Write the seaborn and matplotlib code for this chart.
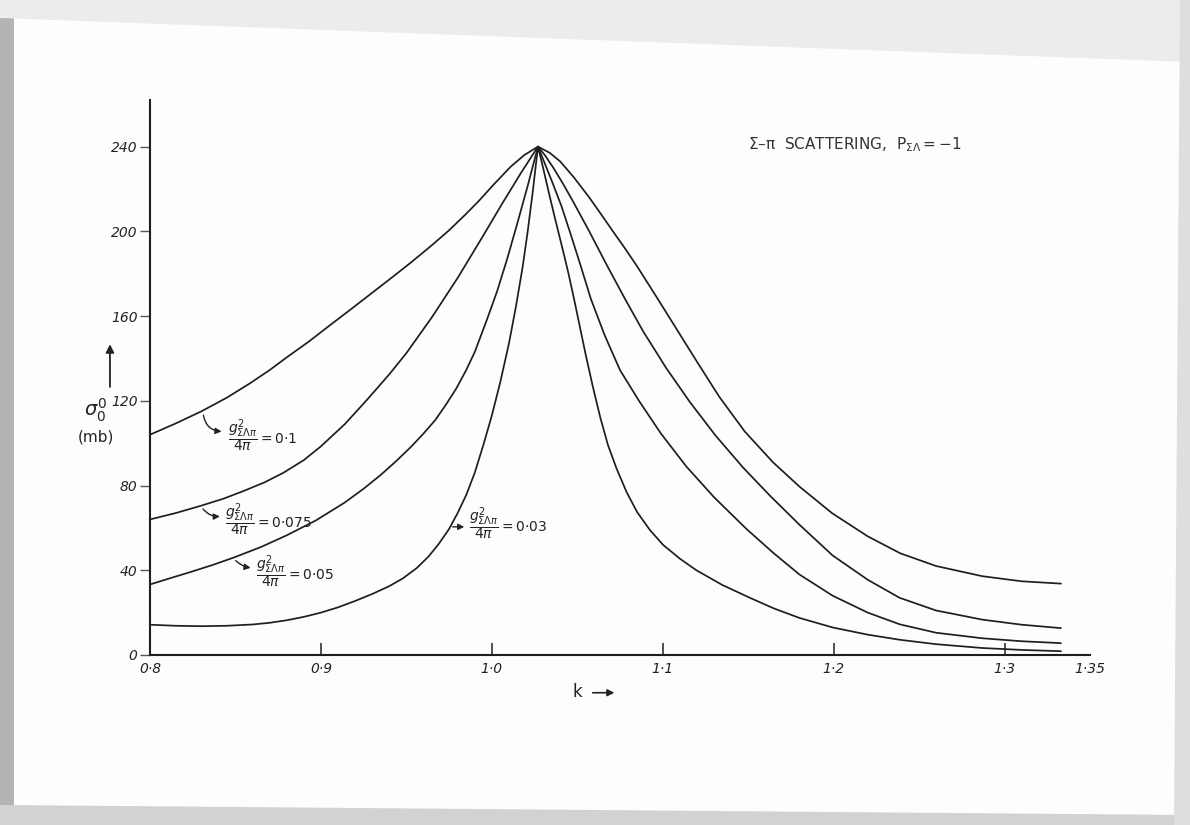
import numpy as np
import pandas as pd
import matplotlib
matplotlib.use("Agg")
import matplotlib.pyplot as plt
import seaborn as sns
from matplotlib.patches import Polygon

# Sigma-pi total cross section sigma_0^0 (mb) against k, one curve per coupling g^2/4pi
k_g010 = [0.800, 0.815, 0.830, 0.845, 0.858, 0.870, 0.880, 0.893, 0.905, 0.918, 0.930,
          0.942, 0.953, 0.965, 0.975, 0.984, 0.992, 1.001, 1.011, 1.019, 1.027,
          1.034, 1.040, 1.048, 1.057, 1.064, 1.070, 1.077, 1.0846, 1.096, 1.108, 1.120,
          1.133, 1.148, 1.1645, 1.180, 1.199, 1.220, 1.239, 1.260, 1.287, 1.310, 1.333]
sigma_g010 = [104, 109.3, 115, 121.5, 128, 134.5, 140.5, 148, 155.5, 163.5, 171,
              178.5, 185.5, 193.5, 200.5, 207.5, 214, 222, 230.5, 236, 240,
              237, 233, 225.5, 216, 208, 201, 193, 184, 169.5, 154, 138.5,
              122, 105.5, 91, 79.5, 67, 56, 48, 42, 37.2, 34.8, 33.7]

k_g0075 = [0.800, 0.815, 0.830, 0.843, 0.855, 0.867, 0.878, 0.890, 0.900, 0.914, 0.927,
           0.940, 0.950, 0.965, 0.980, 0.995, 1.006, 1.017, 1.027,
           1.031, 1.036, 1.042, 1.0476, 1.057, 1.067, 1.078, 1.0884, 1.102, 1.1158, 1.131,
           1.147, 1.163, 1.180, 1.1994, 1.220, 1.2386, 1.260, 1.287, 1.310, 1.333]
sigma_g0075 = [64, 67, 70.5, 73.8, 77.5, 81.5, 86, 92, 98.5, 109, 120.5,
               132.5, 142.5, 159.5, 178, 198, 213, 227.5, 240,
               236, 230, 222, 214, 200, 184.5, 168, 153, 135.5, 119.5, 103.5,
               88.5, 75, 61.5, 47, 35.5, 27, 21, 16.7, 14.3, 12.7]

k_g005 = [0.800, 0.812, 0.825, 0.837, 0.849, 0.865, 0.880, 0.897, 0.914, 0.925, 0.935,
          0.944, 0.953, 0.960, 0.967, 0.973, 0.979, 0.985, 0.990, 0.997, 1.003, 1.009,
          1.015, 1.021, 1.027,
          1.031, 1.035, 1.0407, 1.046, 1.0515, 1.058, 1.066, 1.075, 1.0865, 1.099, 1.1138,
          1.130, 1.149, 1.165, 1.180, 1.1994, 1.220, 1.2386, 1.260, 1.287, 1.310, 1.333]
sigma_g005 = [33.3, 36.3, 39.5, 42.6, 46, 51, 56.5, 63.5, 72, 78.5, 85,
              91.5, 98.5, 104.5, 111, 118, 125.5, 134.5, 143, 158, 171.5, 187,
              204, 221.5, 240,
              232, 224, 212, 199, 185, 168, 151, 134.5, 119.5, 104.5, 89,
              74.5, 59.5, 48, 38, 28, 20, 14.5, 10.5, 7.9, 6.5, 5.6]

k_g003 = [0.800, 0.815, 0.830, 0.845, 0.860, 0.870, 0.880, 0.890, 0.900, 0.910, 0.920,
          0.930, 0.940, 0.948, 0.956, 0.963, 0.969, 0.975, 0.980, 0.985, 0.990, 0.995,
          1.000, 1.005, 1.010, 1.014, 1.018, 1.021, 1.024, 1.027,
          1.030, 1.033, 1.037, 1.041, 1.0446, 1.048, 1.0515, 1.055, 1.0593, 1.0635, 1.068,
          1.073, 1.0788, 1.085, 1.0925, 1.1002, 1.110, 1.1197, 1.135, 1.151, 1.165, 1.180,
          1.1994, 1.220, 1.2386, 1.260, 1.287, 1.310, 1.333]
sigma_g003 = [14.3, 13.8, 13.6, 13.8, 14.4, 15.2, 16.4, 18, 20, 22.5, 25.5,
              28.8, 32.5, 36.2, 41, 46.5, 52.5, 59.5, 67, 75.5, 86, 99,
              113, 129, 147, 164, 183, 200, 219, 240,
              230, 219.5, 206, 193, 181, 168.5, 155, 141.5, 126, 112, 99,
              88, 77, 67.5, 59, 52, 45.5, 40, 33, 27, 22, 17.5,
              13, 9.6, 7.2, 5.1, 3.3, 2.4, 1.8]

couplings = ["0.1", "0.075", "0.05", "0.03"]
coupling_text = [r"0{\cdot}1", r"0{\cdot}075", r"0{\cdot}05", r"0{\cdot}03"]

x_ticks = [0.8, 0.9, 1.0, 1.1, 1.2, 1.3, 1.35]
x_tick_labels = ["0·8", "0·9", "1·0", "1·1", "1·2", "1·3", "1·35"]
y_ticks = [0, 40, 80, 120, 160, 200, 240]

frames = []
for g, k, s in zip(couplings,
                   [k_g010, k_g0075, k_g005, k_g003],
                   [sigma_g010, sigma_g0075, sigma_g005, sigma_g003]):
    frames.append(pd.DataFrame({"k": k, "sigma": s, "g": g}))
df = pd.concat(frames, ignore_index=True)

sns.set_theme(style="white")
plt.rcParams["font.family"] = ["DejaVu Sans"]
plt.rcParams["mathtext.fontset"] = "dejavusans"

W, H = 1190, 825
fig = plt.figure(figsize=(W / 100, H / 100), dpi=100)
fig.patch.set_facecolor("#fdfdfd")

# page edges of the sheet
for pts, col in [
    ([(0, 0), (14, 0), (14, H), (0, H)], "#b4b4b4"),
    ([(0, H), (W, H), (W, H - 62), (0, H - 18)], "#ececec"),
    ([(0, 0), (W, 0), (W, 10), (0, 20)], "#d2d2d2"),
    ([(W - 16, 0), (W, 0), (W, H), (W - 10, H)], "#dedede"),
]:
    fig.patches.append(Polygon([(x / W, y / H) for x, y in pts], closed=True,
                               transform=fig.transFigure, facecolor=col,
                               edgecolor="none", zorder=-5))

ax = fig.add_axes([150 / W, 170 / H, 940 / W, 555 / H])
ax.set_facecolor("none")

sns.lineplot(data=df, x="k", y="sigma", units="g", estimator=None, sort=False,
             color="#1e1e1e", linewidth=1.25, legend=False, ax=ax)

ax.set_xlim(0.8, 1.35)
ax.set_ylim(0, 262)
ax.set_xlabel("")
ax.set_ylabel("")
for side in ["top", "right"]:
    ax.spines[side].set_visible(False)
for side in ["left", "bottom"]:
    ax.spines[side].set_color("#1e1e1e")
    ax.spines[side].set_linewidth(1.5)

ax.set_xticks(x_ticks)
ax.set_xticklabels(x_tick_labels, fontstyle="italic", fontsize=10, color="#222")
ax.set_yticks(y_ticks)
ax.set_yticklabels([str(v) for v in y_ticks], fontstyle="italic", fontsize=10, color="#222")
ax.tick_params(axis="x", direction="in", length=9, width=1.1, color="#222", pad=5,
               bottom=True)
ax.tick_params(axis="y", direction="out", length=7, width=1.0, color="#555", pad=2,
               left=True)
ax.xaxis.get_major_ticks()[-1].tick1line.set_visible(False)

# curve labels with their pointer arrows
label_spots = [
    ((0.831, 114.5), (0.8435, 105.5), (0.8455, 103.5)),
    ((0.830, 70), (0.8425, 65.5), (0.8440, 64.0)),
    ((0.849, 45.5), (0.8605, 41.0), (0.8620, 39.5)),
    ((0.9755, 60.5), (0.9855, 60.5), (0.9868, 62.0)),
]
arrow_rad = [0.45, 0.3, 0.2, 0.0]
for (start, head, txt), ctext, rad in zip(label_spots, coupling_text, arrow_rad):
    ax.annotate("", xy=head, xytext=start,
                arrowprops=dict(arrowstyle="-|>", color="#222", lw=1.0,
                                mutation_scale=9,
                                connectionstyle=f"arc3,rad={rad}"))
    ax.text(txt[0], txt[1],
            r"$\dfrac{g^{2}_{\Sigma\Lambda\pi}}{4\pi}=" + ctext + "$",
            fontsize=10, ha="left", va="center", color="#222")

ax.text(1.1497, 241, "Σ–π  SCATTERING,  " + r"$\mathrm{P}_{\Sigma\Lambda}=-1$",
        fontsize=11, ha="left", va="center", color="#333")

# ordinate title with arrow
ax.annotate("", xy=(-0.0426, 0.565), xytext=(-0.0426, 0.478),
            xycoords="axes fraction",
            arrowprops=dict(arrowstyle="-|>", color="#222", lw=1.3, mutation_scale=12))
ax.text(-0.058, 0.440, r"$\sigma_{0}^{0}$", transform=ax.transAxes,
        fontsize=14, ha="center", va="center", color="#222")
ax.text(-0.057, 0.392, "(mb)", transform=ax.transAxes,
        fontsize=11, ha="center", va="center", color="#222")

# abscissa title with arrow
ax.text(0.455, -0.066, "k", transform=ax.transAxes,
        fontsize=12, ha="center", va="center", color="#222")
ax.annotate("", xy=(0.497, -0.068), xytext=(0.468, -0.068),
            xycoords="axes fraction",
            arrowprops=dict(arrowstyle="-|>", color="#222", lw=1.2, mutation_scale=10))

fig.savefig("out.png", dpi=100, facecolor=fig.get_facecolor())
